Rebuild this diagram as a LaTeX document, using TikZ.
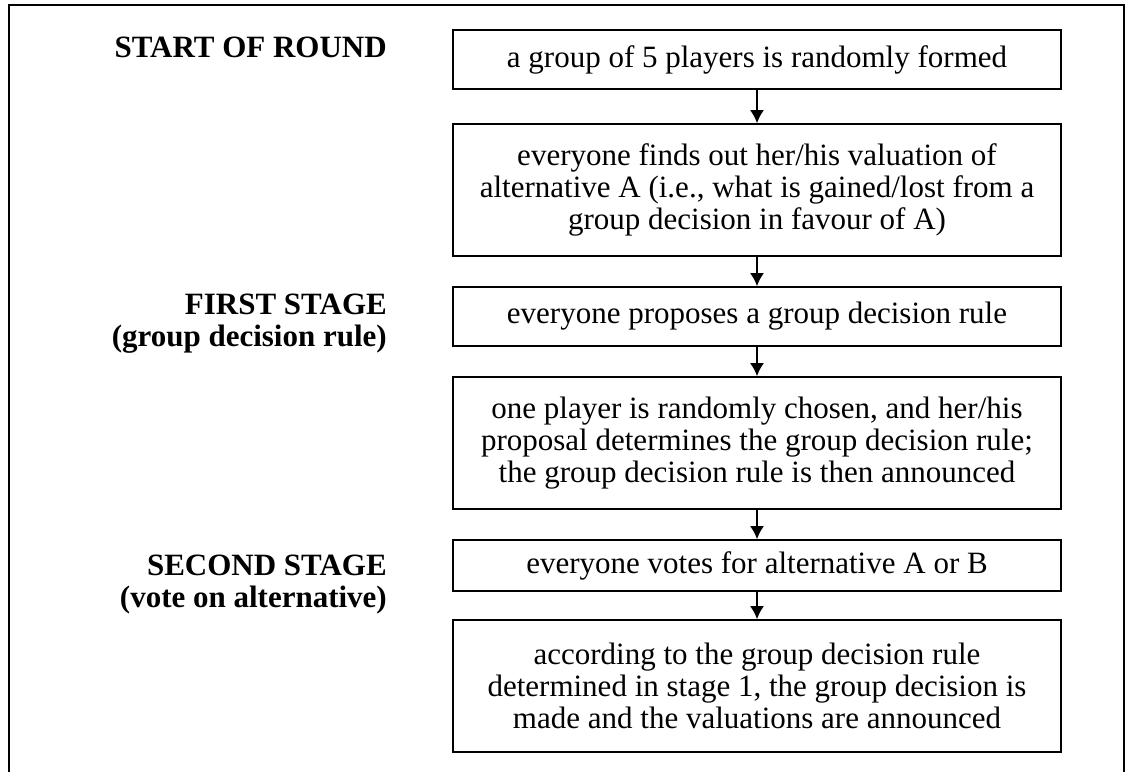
\documentclass[tikz,border=0pt]{standalone}
\usepackage{fontspec}
\setmainfont{Liberation Serif}
\usepackage{tikz}
\usetikzlibrary{arrows.meta,shapes}

\begin{document}
\begin{tikzpicture}[>={Latex[length=13bp,width=14bp]},line join=miter,
		stepbox/.style={draw,line width=1.5bp,rectangle,minimum width=608bp,inner sep=0bp,align=center,font=\fontsize{31bp}{32bp}\selectfont},
		stagelbl/.style={anchor=base east,inner sep=0bp,align=right,font=\fontsize{31bp}{32bp}\selectfont\bfseries},
		flow/.style={->,line width=2bp}]
		\useasboundingbox (0bp,0bp) rectangle (1126bp,772bp);
		%%
		\draw [line width=2bp] (9bp,0bp) -- (9bp,767bp) -- (1124bp,767bp) -- (1124bp,0bp);
		  \node (form) at (757bp,712.5bp) [stepbox,minimum height=59bp] {a group of 5 players is randomly formed};
		  \node (value) at (757bp,582bp) [stepbox,minimum height=132bp] {everyone finds out her/his valuation of\\alternative A (i.e., what is gained/lost from a\\group decision in favour of A)};
		  \node (propose) at (757bp,455.5bp) [stepbox,minimum height=59bp] {everyone proposes a group decision rule};
		  \node (choose) at (757bp,329bp) [stepbox,minimum height=132bp] {one player is randomly chosen, and her/his\\proposal determines the group decision rule;\\the group decision rule is then announced};
		  \node (vote) at (757bp,206.5bp) [stepbox,minimum height=51bp] {everyone votes for alternative A or B};
		  \node (decide) at (757bp,86bp) [stepbox,minimum height=132bp] {according to the group decision rule\\determined in stage 1, the group decision is\\made and the valuations are announced};
		  \node (start) at (387bp,714bp) [stagelbl] {START OF ROUND};
		  \node (first) at (387bp,425bp) [stagelbl] {FIRST STAGE\\(group decision rule)};
		  \node (second) at (387bp,164bp) [stagelbl] {SECOND STAGE\\(vote on alternative)};
		  \draw [flow] (form) -- (value);
		  \draw [flow] (value) -- (propose);
		  \draw [flow] (propose) -- (choose);
		  \draw [flow] (choose) -- (vote);
		  \draw [flow] (vote) -- (decide);
		%
	\end{tikzpicture}
\end{document}
